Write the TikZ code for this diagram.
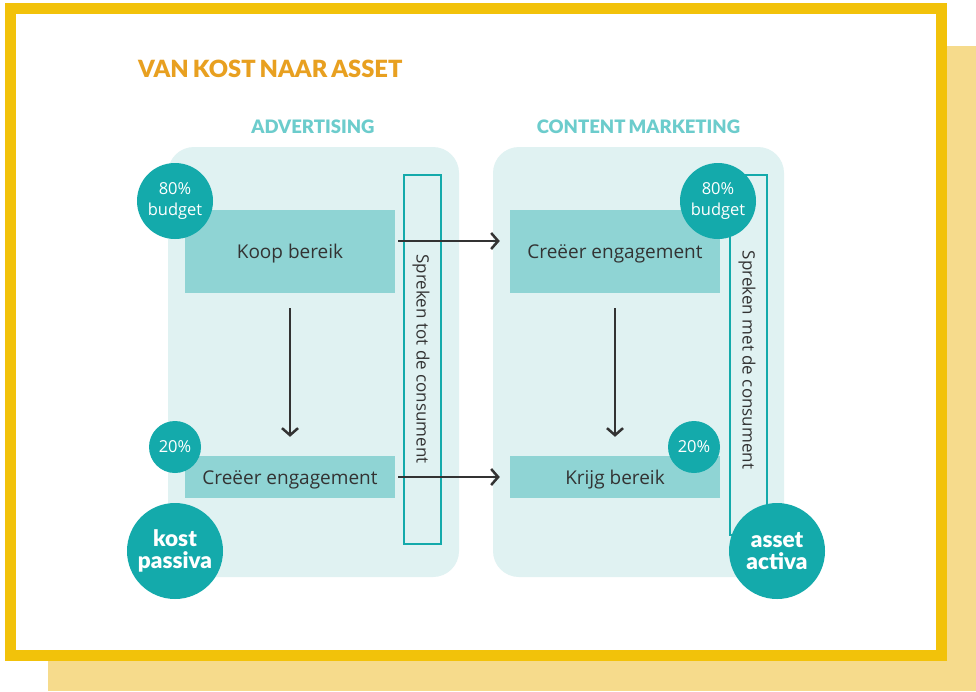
\documentclass[tikz,border=0pt]{standalone}
\usepackage{fontspec}
\setmainfont{Open Sans}
\newfontfamily\headfont{Lato Black}
\usetikzlibrary{arrows.meta}
\definecolor{frameY}{HTML}{F2C20A}
\definecolor{shadowY}{HTML}{F6DB8C}
\definecolor{panelC}{HTML}{E0F2F2}
\definecolor{boxC}{HTML}{8FD4D4}
\definecolor{circC}{HTML}{14AAAB}
\definecolor{headC}{HTML}{6CCCCC}
\definecolor{titleC}{HTML}{E8A020}
\definecolor{inkC}{HTML}{333333}
\newcommand{\lowtxt}[1]{\raisebox{-2.5pt}[\height][\depth]{#1}}
\tikzset{
  panel/.style={fill=panelC, rounded corners=26pt, draw=none},
  stepbox/.style={fill=boxC, draw=none, minimum width=210pt, inner sep=0pt, font=\fontsize{19}{22}\selectfont, text=inkC},
  talkbox/.style={draw=circC, line width=1.2pt, fill=panelC, minimum width=37pt, inner sep=0pt},
  talktext/.style={rotate=-90, font=\fontsize{17}{19}\selectfont, text=inkC},
  bigcirc/.style={circle, fill=circC, minimum size=96pt, inner sep=0pt, align=center, text=white, font=\headfont\fontsize{22.5}{22}\selectfont},
  midcirc/.style={circle, fill=circC, minimum size=76pt, inner sep=0pt, align=center, text=white, font=\fontsize{16.5}{21}\selectfont},
  smallcirc/.style={circle, fill=circC, minimum size=52pt, inner sep=0pt, text=white, font=\fontsize{16.5}{18}\selectfont},
  flow/.style={draw=inkC, line width=2.5pt, -{Straight Barb[length=7pt,width=16pt]}},
  head/.style={font=\headfont\fontsize{18.5}{22}\selectfont, text=headC}
}
\begin{document}
\begin{tikzpicture}[x=1pt,y=-1pt]
\useasboundingbox (0,0) rectangle (976,691);
% shadow
\fill[shadowY] (48,46) rectangle (976,691);
% frame
\filldraw[fill=white, draw=frameY, line width=11pt] (10.5,8.5) rectangle (941.5,655.5);
% title
\node[anchor=base west, inner sep=0pt, text=titleC, font=\headfont\fontsize{23.7}{28}\selectfont] (title) at (138,77) {VAN\,KOST\,NAAR\,ASSET};
\node[head, anchor=base] (hadv) at (313,133) {ADVERTISING};
\node[head, anchor=base] (hcm) at (638.5,133) {CONTENT\,MARKETING};
% panels
\fill[panel] (168,147) rectangle (459,577);
\fill[panel] (493,147) rectangle (784,577);
% talk boxes
\node[talkbox, minimum height=369pt] (talkL) at (422.5,359.5) {};
\node[talktext] (talkLt) at (421,359) {Spreken tot de consument};
\node[talkbox, minimum height=360pt] (talkR) at (748.5,355) {};
\node[talktext] (talkRt) at (747,360) {Spreken met de consument};
% step boxes
\node[stepbox, minimum height=83pt] (koop) at (290,251.5) {\lowtxt{Koop bereik}};
\node[stepbox, minimum height=42pt] (creL) at (290,477) {\lowtxt{Creëer engagement}};
\node[stepbox, minimum height=83pt] (creR) at (615,251.5) {\lowtxt{Creëer engagement}};
\node[stepbox, minimum height=42pt] (krijg) at (615,477) {\lowtxt{Krijg bereik}};
% arrows
\draw[flow] (koop.east |- 0,241) ++(3,0) -- ([xshift=-10pt]creR.west |- 0,241);
\draw[flow] (creL.east) ++(3,0) -- ([xshift=-10pt]krijg.west);
\draw[flow] ([yshift=-15pt]koop.south) -- ([yshift=19pt]creL.north);
\draw[flow] ([yshift=-15pt]creR.south) -- ([yshift=19pt]krijg.north);
% circles
\node[midcirc] (bL) at (175,201) {80\%\\budget};
\node[midcirc] (bR) at (718,201) {80\%\\budget};
\node[smallcirc] (pL) at (175,447) {20\%};
\node[smallcirc] (pR) at (694,447) {20\%};
\node[bigcirc] (kost) at (175,551) {kost\\passiva};
\node[bigcirc] (asset) at (777,551) {asset\\activa};
\end{tikzpicture}
\end{document}
